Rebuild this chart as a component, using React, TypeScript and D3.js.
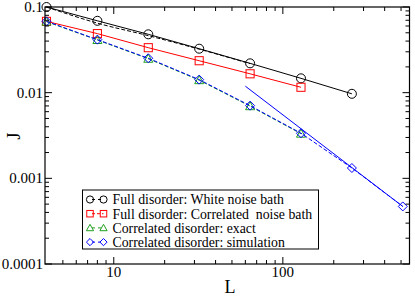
import React from 'react';
import * as d3 from 'd3';

const W = 415;
const H = 296;

// system sizes
const sizes = [4, 8, 16, 32, 64, 128, 256, 512];

// J values
const whiteNoise = [0.1, 0.069, 0.048, 0.0326, 0.022, 0.0147, 0.0097];
const correlatedBath = [0.068, 0.0489, 0.0335, 0.0236, 0.0166, 0.01156];
const exact = [0.0675, 0.0412, 0.0249, 0.014, 0.00695, 0.00332];
const simulation = [0.068, 0.0416, 0.0252, 0.0142, 0.00705, 0.00336, 0.00132, 0.00047];

// fitted guide lines
const whiteFitL = [4, 8, 16, 32, 64];
const whiteFitJ = [0.1, 0.0648, 0.0463, 0.0322, 0.0218];
const simFitL = [60, 512];
const simFitJ = [0.0119, 0.00047];

const xMajor = [10, 100];
const xLabels = ['10', '100'];
const yMajor = [0.0001, 0.001, 0.01, 0.1];
const yLabels = ['0.0001', '0.001', '0.01', '0.1'];

const legendLabels = [
  'Full disorder: White noise bath',
  'Full disorder: Correlated  noise bath',
  'Correlated disorder: exact',
  'Correlated disorder: simulation',
];

const GREEN = '#1fa01f';
const FONT = '"Liberation Serif", "Times New Roman", serif';

const left = 45, right = 409.5, top = 7, bottom = 264;

const x = d3.scaleLog().domain([3.92, 561]).range([left, right]);
const y = d3.scaleLog().domain([0.0001, 0.1]).range([bottom, top]);

const xMinor = [5, 6, 7, 8, 9, 20, 30, 40, 50, 60, 70, 80, 90, 200, 300, 400, 500];
const yMinor: number[] = [];
[0.0001, 0.001, 0.01].forEach(d => {
  for (let k = 2; k <= 9; k++) yMinor.push(d * k);
});

const line = d3.line<[number, number]>().x(d => x(d[0])).y(d => y(d[1]));
const curve = d3.line<[number, number]>().x(d => x(d[0])).y(d => y(d[1])).curve(d3.curveMonotoneX);

const pairs = (ls: number[], js: number[]) => js.map((j, i) => [ls[i], j] as [number, number]);

type Shape = 'circle' | 'square' | 'triangle' | 'diamond';

const Marker = ({ shape, cx, cy, color, s = 4.5 }: { shape: Shape; cx: number; cy: number; color: string; s?: number }) => {
  const p = { fill: 'none', stroke: color, strokeWidth: 1 };
  if (shape === 'circle') return <circle cx={cx} cy={cy} r={s} {...p} />;
  if (shape === 'square') return <rect x={cx - s * 0.9} y={cy - s * 0.9} width={s * 1.8} height={s * 1.8} {...p} />;
  if (shape === 'triangle')
    return <path d={`M${cx},${cy - s}L${cx + s},${cy + s * 0.78}L${cx - s},${cy + s * 0.78}Z`} {...p} />;
  return <path d={`M${cx},${cy - s}L${cx + s},${cy}L${cx},${cy + s}L${cx - s},${cy}Z`} {...p} />;
};

const series: { vals: number[]; color: string; shape: Shape; dash?: string }[] = [
  { vals: whiteNoise, color: '#000', shape: 'circle' },
  { vals: correlatedBath, color: '#ff0000', shape: 'square' },
  { vals: exact, color: GREEN, shape: 'triangle', dash: '4,2' },
  { vals: simulation, color: '#0000ff', shape: 'diamond', dash: '4,2' },
];

const legendDash = ['3,3', '3,2', '3,3', '3,3'];

export default function App() {
  return (
    <svg width={W} height={H} style={{ position: 'fixed', left: 0, top: 0, background: '#fff' }}>
      {/* guide lines */}
      <path d={curve(pairs(whiteFitL, whiteFitJ)) || ''} fill="none" stroke="#000" strokeWidth={1} strokeDasharray="4,2" />
      <path d={line(pairs(simFitL, simFitJ)) || ''} fill="none" stroke="#0000ff" strokeWidth={1} />

      {series.map((s, si) => (
        <g key={si}>
          <path d={line(pairs(sizes, s.vals)) || ''} fill="none" stroke={s.color} strokeWidth={1} strokeDasharray={s.dash} />
          {s.vals.map((v, i) => (
            <Marker key={i} shape={s.shape} cx={x(sizes[i])} cy={y(v)} color={s.color} />
          ))}
        </g>
      ))}

      {/* frame */}
      <rect x={left} y={top} width={right - left} height={bottom - top} fill="none" stroke="#000" strokeWidth={1.2} />

      {/* x ticks */}
      {xMajor.map(v => (
        <g key={'xM' + v}>
          <line x1={x(v)} x2={x(v)} y1={bottom} y2={bottom - 7} stroke="#000" />
          <line x1={x(v)} x2={x(v)} y1={top} y2={top + 7} stroke="#000" />
        </g>
      ))}
      {xMinor.map(v => (
        <g key={'xm' + v}>
          <line x1={x(v)} x2={x(v)} y1={bottom} y2={bottom - 4} stroke="#000" />
          <line x1={x(v)} x2={x(v)} y1={top} y2={top + 4} stroke="#000" />
        </g>
      ))}
      {/* y ticks */}
      {yMajor.map(v => (
        <g key={'yM' + v}>
          <line x1={left} x2={left + 7} y1={y(v)} y2={y(v)} stroke="#000" />
          <line x1={right} x2={right - 7} y1={y(v)} y2={y(v)} stroke="#000" />
        </g>
      ))}
      {yMinor.map(v => (
        <g key={'ym' + v}>
          <line x1={left} x2={left + 4} y1={y(v)} y2={y(v)} stroke="#000" />
          <line x1={right} x2={right - 4} y1={y(v)} y2={y(v)} stroke="#000" />
        </g>
      ))}

      {/* tick labels */}
      <g fontFamily={FONT} fontSize={15} fill="#000">
        {xMajor.map((v, i) => (
          <text key={'xl' + v} x={x(v)} y={bottom + 13} textAnchor="middle">{xLabels[i]}</text>
        ))}
        {yMajor.map((v, i) => (
          <text key={'yl' + v} x={left - 2} y={y(v) + 5} textAnchor="end">{yLabels[i]}</text>
        ))}
      </g>

      {/* axis titles */}
      <text x={230} y={293} fontFamily={FONT} fontSize={18} textAnchor="middle">L</text>
      <text transform="translate(20,136) rotate(-90)" fontFamily={FONT} fontSize={18} textAnchor="middle">J</text>

      {/* legend */}
      <rect x={82.5} y={190} width={236} height={59} fill="#fff" stroke="#000" strokeWidth={1} />
      {series.map((s, i) => {
        const ly = 199.5 + i * 14.2;
        return (
          <g key={'lg' + i}>
            <line x1={90} x2={103.5} y1={ly} y2={ly} stroke={s.color} strokeDasharray={legendDash[i]} strokeDashoffset={-2} />
            <Marker shape={s.shape} cx={90} cy={ly} color={s.color} s={3.6} />
            <Marker shape={s.shape} cx={103.5} cy={ly} color={s.color} s={3.6} />
            <text x={112.5} y={ly + 4.8} fontFamily={FONT} fontSize={13.8} style={{ whiteSpace: 'pre' }}>
              {legendLabels[i]}
            </text>
          </g>
        );
      })}
    </svg>
  );
}
